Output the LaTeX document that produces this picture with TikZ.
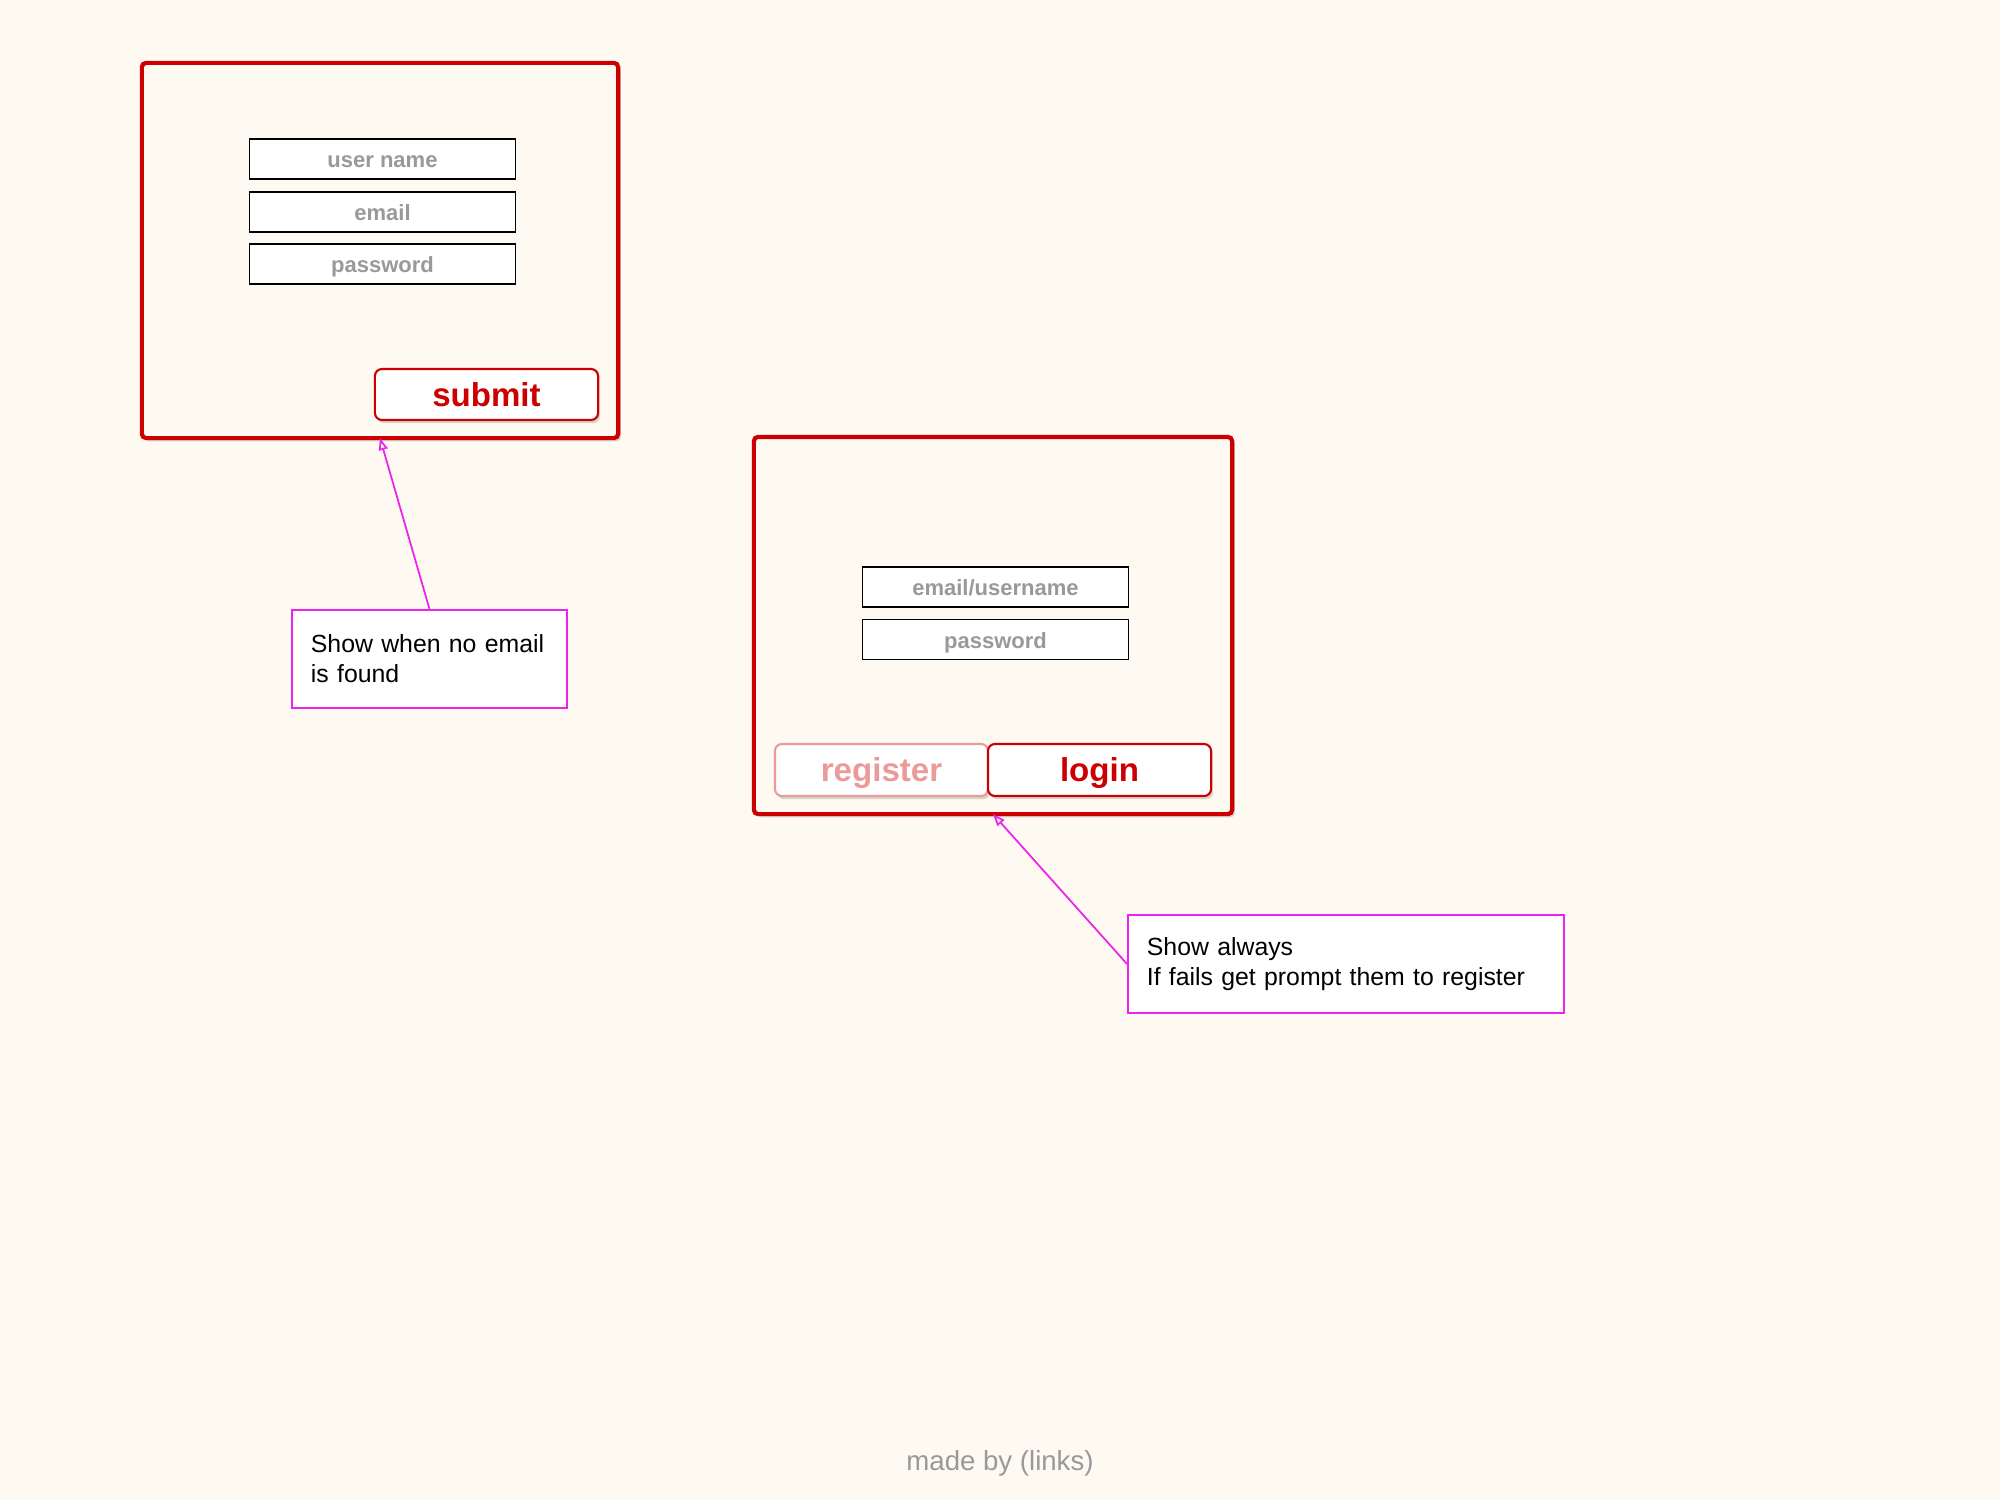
\documentclass[tikz,border=0pt]{standalone}
\usepackage{fontspec}
\setmainfont{Liberation Sans}
\usetikzlibrary{arrows.meta,shadows}
\definecolor{paper}{HTML}{FEF9F1}
\definecolor{formred}{HTML}{CC0000}
\definecolor{softred}{HTML}{EB9A9A}
\definecolor{hintgray}{HTML}{999999}
\definecolor{notepink}{HTML}{EE22EE}
\begin{document}
\begin{tikzpicture}[x=0.01cm, y=-0.01cm,
        screen/.style={draw=formred, line width=1.2pt, rounded corners=1.2pt, fill=paper, inner sep=0pt, outer sep=0pt,
            drop shadow={shadow xshift=0.8pt, shadow yshift=-0.9pt, opacity=0.3}},
        field/.style={draw=black, line width=0.45pt, fill=white, inner sep=0pt, minimum width=2.66cm, minimum height=0.4cm,
            text=hintgray, text height=5.1pt, text depth=0pt, font=\fontsize{6.26}{7}\selectfont\bfseries},
        button/.style={draw=formred, line width=0.6pt, fill=white, rounded corners=2pt, inner sep=0pt, minimum height=0.52cm,
            text=formred, text height=6.8pt, text depth=0pt, font=\fontsize{9.4}{10}\selectfont\bfseries,
            drop shadow={shadow xshift=0.6pt, shadow yshift=-0.9pt, opacity=0.3}},
        note/.style={draw=notepink, line width=0.5pt, fill=white, align=left, inner xsep=0.19cm, minimum height=0.98cm,
            font=\fontsize{7.06}{8.54}\selectfont},
        pointer/.style={draw=notepink, line width=0.5pt, -{Triangle[open, length=0.12cm, width=0.09cm]}}]
    \fill[paper] (0, 0) rectangle (2000, 1500);
    \node[screen, minimum width=4.76cm, minimum height=3.75cm] (signup) at (380, 250.5) {};
    \node[field] (suName) at (382.5, 159) {user name};
    \node[field] (suEmail) at (382.5, 212) {email};
    \node[field] (suPass) at (382.5, 264) {password};
    \node[button, minimum width=2.23cm, minimum height=0.51cm] (submit) at (486.5, 394.5) {submit};
    \node[screen, minimum width=4.78cm, minimum height=3.77cm] (signin) at (993, 625.5) {};
    \node[field] (siUser) at (995.5, 587) {email/username};
    \node[field] (siPass) at (995.5, 639.5) {password};
    \node[button, draw=softred, text=softred, minimum width=2.13cm] (register) at (881.5, 770) {register};
    \node[button, minimum width=2.23cm] (login) at (1099.5, 770) {login};
    \node[note, text width=2.37cm] (noEmailNote) at (429.5, 659) {Show when no email\\is found};
    \node[note, text width=3.98cm] (alwaysNote) at (1346, 964) {Show always\\If fails get prompt them to register};
    \draw[pointer] (noEmailNote.north) -- (signup.south);
    \draw[pointer] (alwaysNote.west) -- (signin.south);
    \node[text=hintgray, font=\fontsize{7.85}{9}\selectfont] (credit) at (1000, 1463) {made by (links)};
\end{tikzpicture}
\end{document}
